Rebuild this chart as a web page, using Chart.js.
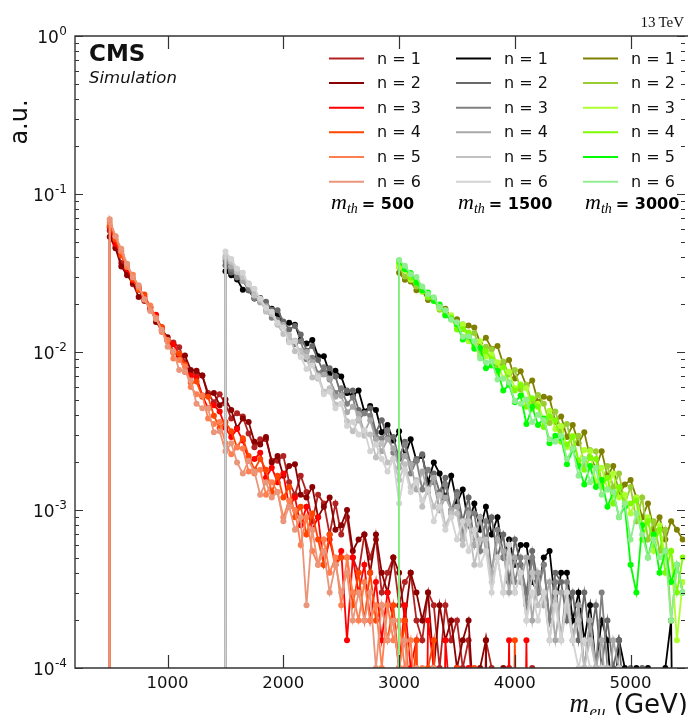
<!DOCTYPE html>
<html>
<head>
<meta charset="utf-8">
<script src="https://cdn.jsdelivr.net/npm/chart.js@4.4.1/dist/chart.umd.min.js"></script>
<style>
html, body { margin: 0; padding: 0; background: #fff; overflow: hidden; }
</style>
</head>
<body>
<canvas id="c" width="689" height="715"></canvas>
<script>
// values are in units of 1e-4 a.u., one per 50 GeV bin
const UNIT = 1e-4;
const ZERO = 1e-7; // empty bin, falls below the axis
const binWidth = 50;
const thresholds = [500, 1500, 3000];
const nLabels = ['n = 1', 'n = 2', 'n = 3', 'n = 4', 'n = 5', 'n = 6'];
const xTicks = [1000, 2000, 3000, 4000, 5000];

const redColors = ['#b22222', '#8b0000', '#ff0000', '#ff4500', '#ff7f50', '#e9967a'];
const grayColors = ['#000000', '#696969', '#808080', '#a9a9a9', '#c0c0c0', '#d3d3d3'];
const greenColors = ['#808000', '#9acd32', '#adff2f', '#7cfc00', '#00ff00', '#90ee90'];

// m_th = 500, bins from 500 GeV
const m500_n1 = [585,462,366,318,268,250,210,192,161,143,118, 115,107,86,73,73,71,55,48,54,47,
  38,41,39,30.5,25,28,28,20.5,20.5, 22,15,12.5,16.5,13,8.5,12.5,11,7,11,7,
  9,5,4,7,5,6.5,3,4,5,2.5, 3.5,4,2,1.5,3,2.5,1,2.5,1.5,2, 1,1.5,0.5,0,1.5,1,0,0.5,1,0, 0,0,1,0,0,0];
const m500_n2 = [537,453,348,306,274,223,214,191,155,138,124, 100,94,95,77,76,71,53,55,46,50,
  43,33,38,36,27,26,29,20,22, 16.5,19,19.5,12.5,12,14,9,10.5,12,7.5,8,
  10,5.5,6.5,7,4,7,4,3,5,4, 2,4,3,2,3,1,2.5,1.5,2,1, 1.5,2,0.5,1,1.5,0,0.5,1,0,0, 0,0.5,0,0,0,0];
const m500_n3 = [617,482,416,337,283,258,223,186,172,138,119, 112,96,75,71,69,53,44,46,42,33,
  29,32.5,27.5,20.5,21,23,16,18.5,15, 17,10.5,12,8,10.5,7.5,9,4.5,6.5,4.5,5.5,
  1.5,5,3,4.5,2,3.5,1.5,3,2,1, 2.5,1,1.5,0,2,1,0,1.5,0.5,1, 0,1,0,0,0.5,0,0,0,1.5,0, 0,1.5,0,0,0,0];
const m500_n4 = [630,515,408,355,289,247,231,192,162,144,117, 99,98,83,64,65,52,52,39.5,33,36,
  31.5,25,28.5,22,18,21,18,13,16.5, 12,14,9,10.5,7,9.5,6.5,4.5,7,4.5,5,
  5,2.5,4,2,4,2,2.5,1.5,2.5,1, 2,0.5,1.5,0,1,1.5,0,0.5,0,1, 0,0,1,0,0,0,0,0,0,1.5, 0,0,0,0,0,0];
const m500_n5 = [661,541,432,345,308,256,214,197,165,134,119, 91,89,81,60,54,53,38,35,36,26.5,
  22.5,25,24.5,17.5,17,18,12.5,15,13, 9,11.5,10,6,9,5.5,4.5,6.5,4,5,2.5,
  5,3,2,3.5,2,2.5,1,2.5,1.5,2, 1,1.5,0.5,1,0,1,0,0.5,0,0, 0,0,0,0,0,0,0,0,0,0, 0,0,0,0,0,0];
const m500_n6 = [693,540,450,362,297,265,216,182,162,138,108, 101,77,75,66,47,44,44,31,31.5,23.5,
  26.5,20,17,20.5,17.5,12.5,15,12,13, 8.5,10.5,7.5,9,2.5,7.5,4.5,5.5,3,4.5,3,
  4,2,3,2,3,1,2.5,1.5,2,1, 1.5,0.5,1,0,0.5,1,0,0,0.5,0, 0,0,0,0,0,0,0,0,0,0, 0,0,0,0,0,0];

// m_th = 1500, bins from 1500 GeV
const m1500_n1 = [324,306,288,248,246,218,220,187,188,174, 149,153,149,119,113,119,94,94,73,76,
  70,55,53,57,42,45.5,43,31,34.5,27.5, 31.5,22,28,20.5,22,15,20,17,12,16.5,
  11,13.5,8,11,7.5,10.5,7,9,5,6.5, 4.5,6,6,3.5,3,5,5.5,2.5,4,4,
  2,3,1.5,2.5,1,2,1.5,0.5,1.5,1, 0.5,1,0,1,0.5,0,1,2,0,0];
const m1500_n2 = [354,318,305,284,246,234,209,208,185,184, 156,139,146,129,102,109,89,74,79,70,
  53,57,57,43,41,44,31,37,28.5,29, 21,27,19.5,21,22.5,13.5,17,13,16,9.5,
  13,8.5,12,6,9,6.5,9,5,7,3.5, 6.5,4.5,3,5.5,3.5,4.5,2,4,3.5,2,
  3,1.5,3,1.5,2.5,1,2,1,1.5,0.5, 1,0,1,0.5,0,0,0.5,0,0,0];
const m1500_n3 = [377,336,296,283,254,219,213,185,165,160, 147,117,112,117,90,92,73,80,67,55,
  59,47,51.5,37,41,39.5,29,28.5,32,23, 22,26,17,20.5,13.5,18,15,10,14.5,10,
  12.5,7,10,9.5,5.5,8.5,4,7.5,5,6, 3.5,5,2.5,5,3,4.5,2,3.5,1.5,3.5,
  1.5,2.5,1,2,1,3,1,0.5,1,0, 0.5,0,0.5,0,0,0,0,0,0,0];
const m1500_n4 = [393,348,324,281,267,232,206,195,176,150, 149,121,118,96,100,86,68,72,68,52,
  53,41.5,45,40.5,31,37,28,23.5,28,24.5, 18.5,22,19.5,13.5,17.5,13,16,10,12,10,
  10.5,6.5,9.5,6,9,5.5,4,6.5,5.5,3, 5,3.5,5,2,4,2.5,3.5,1.5,3,3,
  1.5,2.5,1,2,1,1.5,0.5,1.5,1,0, 0.5,0,0,0.5,0,0,0,0,0,0];
const m1500_n5 = [404,373,321,297,271,228,214,180,174,149, 130,128,101,102,93,69,71,56,59,46.5,
  47,36.5,31.5,37.5,29.5,30,21.5,26.5,20,21, 15.5,19.5,14,15.5,10.5,13.5,10.5,12.5,8,9.5,
  9.5,6,8.5,4.5,6.5,6.5,3.5,5,3,5, 3,4,2,4,2.5,3,1.5,3,1.5,2.5,
  1.5,2,1,1.5,1,0.5,1,0.5,0,0.5, 0,0,0,0,0,0,0,0,0,0];
const m1500_n6 = [432,388,337,317,268,251,218,190,180,153, 143,115,117,93,78,82,69,54,56,44,
  47,34,36,30,32,23.5,26,21,17.5,21, 11,18,13,15,11.5,13.5,8.5,10.5,7.5,9,
  6.5,8.5,5.5,7.5,4.5,5.5,3,5,3,6, 3,4,2,3,2,3,1.5,2.5,1.5,3,
  1.5,1,1.5,1,0.5,1,0.5,0,1,0, 0,0.5,0,0,0,0,0,0,0,0];

// m_th = 3000, bins from 3000 GeV
const m3000_n1 = [317,287,279,246,242,213,213,191,188,164, 161,140,147,143,115,123,105,109,84,89,
  68,75.5,61,66,48.5,52,51,36,39,29, 34.5,26.5,31,21.5,18.5,23.5,16.5,19,12.5,14.5,
  15.5,12,9,11,7.5,9,6.5,8.5,7.5,6.5];
const m3000_n2 = [342,300,289,260,254,221,213,185,184,165, 145,150,127,132,102,108,104,81,87,72,
  77,58,62,47.5,53.5,47,35.5,42,32,35, 24.5,29.5,19,24,23.5,15,19,14,17,11,
  14,8.5,12,6.5,8.5,5.5,7.5,2,4.5,3];
const m3000_n3 = [346,330,287,273,241,234,216,189,173,171, 146,149,117,115,117,94,96,86,68,75,
  59,62.5,59,43.5,47,37,42.5,32.5,34,25, 29.5,20.5,24,23.5,15,18.5,13.5,17,12,12.5,
  9.5,12,8,9,5.5,8,5,5.5,1.5,3.5];
const m3000_n4 = [364,336,295,284,249,224,217,195,173,165, 139,140,133,108,95,101,90,74,80,64,
  57,61.5,45,51,45,33.5,39,37,27,26, 29,20.5,18,21.5,21,14,16,11,14,10.5,
  11,11.5,6.5,8.5,6,7.5,4,5.5,3,5];
const m3000_n5 = [378,334,316,274,245,238,210,200,170,161, 150,120,125,105,106,79,82,76,57,62,
  48,53,35,45,34.5,38,26.5,29.5,28.5,19.5, 24,19,14.5,19,14,15.5,10.5,13,9,10.5,
  4.5,3,8,5,7,4,5.5,3.5,4.5,3];
const m3000_n6 = [382,351,311,298,260,233,222,193,184,160, 154,125,126,117,91,86,87,67,68,64,
  49,47,50,36,40,37,28,27,29.5,21, 24.5,16.5,21,15,18.5,12.5,13.5,13,9,11,
  6.5,9.5,7,5,6.5,5,5.5,2,4.5,3];

const groups = [
  { start: 500, colors: redColors, series: [m500_n1, m500_n2, m500_n3, m500_n4, m500_n5, m500_n6] },
  { start: 1500, colors: grayColors, series: [m1500_n1, m1500_n2, m1500_n3, m1500_n4, m1500_n5, m1500_n6] },
  { start: 3000, colors: greenColors, series: [m3000_n1, m3000_n2, m3000_n3, m3000_n4, m3000_n5, m3000_n6] }
];

function toPoints(start, vals) {
  // the histogram is empty below the threshold
  let pts = [{ x: start, y: ZERO }];
  vals.forEach((v, i) => {
    pts.push({ x: start + i * binWidth, y: v > 0 ? v * UNIT : ZERO });
  });
  return pts;
}

let datasets = [];
groups.forEach((g) => {
  g.series.forEach((vals, n) => {
    datasets.push({
      label: nLabels[n],
      data: toPoints(g.start, vals),
      borderColor: g.colors[n],
      backgroundColor: g.colors[n],
      pointBackgroundColor: g.colors[n],
      pointBorderWidth: 0,
      pointRadius: 3,
      borderWidth: 1.8,
      tension: 0,
      order: -datasets.length
    });
  });
});

function supLabel(ctx, right, y, exp) {
  ctx.font = '12px "DejaVu Sans"';
  let we = ctx.measureText(exp).width;
  ctx.textAlign = 'left';
  ctx.fillText(exp, right - we, y - 1);
  ctx.font = '17px "DejaVu Sans"';
  ctx.textAlign = 'right';
  ctx.fillText('10', right - we - 0.5, y + 7);
}

function mathLabel(ctx, x, y, sub, rest) {
  ctx.textAlign = 'left';
  ctx.font = 'italic 22px "Liberation Serif"';
  ctx.fillText('m', x, y);
  let w = ctx.measureText('m').width;
  ctx.font = 'italic 14px "Liberation Serif"';
  ctx.fillText(sub, x + w, y + 4);
  let w2 = ctx.measureText(sub).width;
  ctx.font = 'bold 16px "DejaVu Sans"';
  ctx.fillText(rest, x + w + w2 + 4, y);
}

const decor = {
  id: 'decor',
  afterDraw(chart) {
    const ctx = chart.ctx;
    const a = chart.chartArea;
    const xs = chart.scales.x;
    const ys = chart.scales.y;
    ctx.save();

    // frame
    ctx.strokeStyle = '#333';
    ctx.lineWidth = 1.4;
    ctx.beginPath();
    ctx.moveTo(a.right + 3, a.top);
    ctx.lineTo(a.left, a.top);
    ctx.lineTo(a.left, a.bottom);
    ctx.lineTo(a.right + 3, a.bottom);
    ctx.stroke();

    // x ticks, inward on top and bottom
    ctx.lineWidth = 1.2;
    ctx.beginPath();
    xTicks.forEach((v) => {
      let px = Math.round(xs.getPixelForValue(v)) + 0.5;
      ctx.moveTo(px, a.bottom);
      ctx.lineTo(px, a.bottom - 13);
      ctx.moveTo(px, a.top);
      ctx.lineTo(px, a.top + 13);
    });
    // y ticks, major and minor on both sides
    for (let e = -4; e <= 0; e++) {
      for (let m = 1; m <= 9; m++) {
        if (e === 0 && m > 1) break;
        let py = Math.round(ys.getPixelForValue(m * Math.pow(10, e))) + 0.5;
        let len = m === 1 ? 8 : 4;
        ctx.moveTo(a.left, py);
        ctx.lineTo(a.left + len, py);
        ctx.moveTo(a.right, py);
        ctx.lineTo(a.right - len, py);
      }
    }
    ctx.stroke();

    // tick labels
    ctx.fillStyle = '#111';
    ctx.font = '16.5px "DejaVu Sans"';
    ctx.textAlign = 'center';
    ctx.textBaseline = 'alphabetic';
    xTicks.forEach((v) => {
      ctx.fillText(String(v), xs.getPixelForValue(v), 688);
    });
    for (let e = -4; e <= 0; e++) {
      let py = ys.getPixelForValue(Math.pow(10, e));
      supLabel(ctx, 67, py, e === 0 ? '0' : String(e));
    }

    // axis titles
    ctx.save();
    ctx.translate(27, 122);
    ctx.rotate(-Math.PI / 2);
    ctx.textAlign = 'center';
    ctx.font = '24px "DejaVu Sans"';
    ctx.fillText('a.u.', 0, 0);
    ctx.restore();

    ctx.textAlign = 'right';
    ctx.font = '26px "DejaVu Sans"';
    ctx.fillText('(GeV)', 688, 713);
    let wg = ctx.measureText('(GeV) ').width;
    ctx.font = 'italic 17px "Liberation Serif"';
    ctx.fillText('eu', 688 - wg, 717);
    let ws = ctx.measureText('eu').width;
    ctx.font = 'italic 27px "Liberation Serif"';
    ctx.fillText('m', 688 - wg - ws - 0.5, 712);

    // labels
    ctx.textAlign = 'left';
    ctx.font = 'bold 23px "DejaVu Sans"';
    ctx.fillText('CMS', 89, 61);
    ctx.font = 'italic 16.5px "DejaVu Sans"';
    ctx.fillText('Simulation', 89, 83);
    ctx.textAlign = 'right';
    ctx.font = '15px "Liberation Serif"';
    ctx.fillText('13\u2009TeV', 684, 27);

    // legend, one column per threshold
    const colX = [329, 456, 583];
    const rowY = [58.5, 83, 107.7, 132.3, 157, 181.7];
    groups.forEach((g, c) => {
      g.colors.forEach((col, n) => {
        ctx.strokeStyle = col;
        ctx.lineWidth = 2;
        ctx.beginPath();
        ctx.moveTo(colX[c], rowY[n]);
        ctx.lineTo(colX[c] + 35, rowY[n]);
        ctx.stroke();
        ctx.fillStyle = '#111';
        ctx.textAlign = 'left';
        ctx.textBaseline = 'middle';
        ctx.font = '16px "DejaVu Sans"';
        ctx.fillText(nLabels[n], colX[c] + 48, rowY[n] + 1);
      });
      ctx.textBaseline = 'alphabetic';
      ctx.fillStyle = '#000';
      mathLabel(ctx, colX[c] + 2, 209, 'th', '= ' + thresholds[c]);
    });

    ctx.restore();
  }
};

new Chart(document.getElementById('c'), {
  type: 'line',
  data: { datasets: datasets },
  options: {
    responsive: false,
    animation: false,
    events: [],
    layout: { padding: { left: 75, top: 36, right: 1, bottom: 47 } },
    plugins: { legend: { display: false }, tooltip: { enabled: false } },
    scales: {
      x: { type: 'linear', min: 200, max: 5470, display: false },
      y: { type: 'logarithmic', min: 1e-4, max: 1, display: false }
    }
  },
  plugins: [decor]
});
</script>
</body>
</html>
